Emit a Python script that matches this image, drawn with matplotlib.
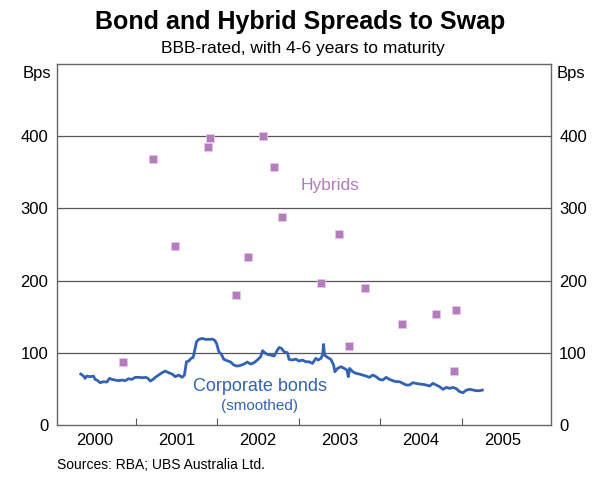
import matplotlib
matplotlib.use('Agg')
import matplotlib.pyplot as plt
import numpy as np

plt.rcParams['font.family'] = ['Liberation Sans', 'DejaVu Sans']

# Corporate bonds (smoothed), bps
bond_t = [2000.327, 2000.360, 2000.380, 2000.401, 2000.442, 2000.483, 2000.503, 2000.524,
          2000.565, 2000.606, 2000.647, 2000.680, 2000.708, 2000.749, 2000.790, 2000.831,
          2000.872, 2000.913, 2000.954, 2000.995, 2001.036, 2001.077, 2001.118, 2001.147,
          2001.180, 2001.213, 2001.241, 2001.282, 2001.323, 2001.364, 2001.405, 2001.446,
          2001.487, 2001.528, 2001.569, 2001.598, 2001.623, 2001.651, 2001.680, 2001.705,
          2001.725, 2001.746, 2001.774, 2001.815, 2001.856, 2001.897, 2001.938, 2001.967,
          2001.992, 2002.020, 2002.049, 2002.082, 2002.123, 2002.164, 2002.205, 2002.246,
          2002.287, 2002.328, 2002.369, 2002.410, 2002.451, 2002.492, 2002.533, 2002.557,
          2002.582, 2002.615, 2002.656, 2002.697, 2002.738, 2002.762, 2002.787, 2002.820,
          2002.861, 2002.881, 2002.922, 2002.963, 2003.004, 2003.045, 2003.086, 2003.127,
          2003.168, 2003.209, 2003.238, 2003.271, 2003.292, 2003.304, 2003.316, 2003.353,
          2003.394, 2003.427, 2003.443, 2003.476, 2003.517, 2003.558, 2003.591, 2003.607,
          2003.624, 2003.661, 2003.701, 2003.742, 2003.784, 2003.824, 2003.866, 2003.906,
          2003.948, 2003.989, 2004.030, 2004.071, 2004.112, 2004.152, 2004.193, 2004.235,
          2004.276, 2004.317, 2004.358, 2004.398, 2004.440, 2004.480, 2004.522, 2004.563,
          2004.604, 2004.645, 2004.686, 2004.727, 2004.768, 2004.809, 2004.850, 2004.891,
          2004.932, 2004.973, 2005.013, 2005.055, 2005.096, 2005.137, 2005.177, 2005.219,
          2005.251]
bond_v = [70.6, 67.8, 64.6, 67.8, 66.9, 67.8, 63.2, 62.3,
          58.6, 60.0, 59.5, 64.6, 63.2, 62.3, 61.4, 62.3,
          61.4, 64.1, 63.2, 66.0, 66.0, 65.5, 66.0, 65.0,
          60.9, 63.2, 66.0, 69.2, 72.4, 74.7, 72.4, 70.6,
          66.9, 69.2, 66.0, 69.2, 87.6, 88.6, 92.3, 93.6,
          103.8, 115.3, 118.6, 119.9, 118.6, 118.6, 119.0, 117.6,
          113.0, 101.5, 98.3, 90.9, 89.0, 87.2, 83.0, 81.6,
          82.6, 84.4, 87.2, 84.4, 86.3, 90.0, 94.6, 102.9,
          100.1, 97.8, 96.9, 95.5, 103.8, 107.5, 106.1, 101.5,
          100.1, 90.9, 90.0, 91.3, 88.6, 90.0, 87.6, 87.6,
          85.3, 92.3, 90.0, 92.3, 96.9, 111.6, 96.9, 93.6,
          90.9, 83.0, 73.8, 78.4, 80.7, 78.4, 76.1, 66.9,
          78.4, 73.8, 71.5, 70.6, 69.2, 67.8, 66.0, 69.2,
          66.9, 63.2, 62.3, 66.0, 63.2, 61.4, 60.0, 60.0,
          57.7, 55.4, 55.4, 58.6, 57.7, 56.7, 56.3, 55.4,
          54.0, 57.7, 55.4, 53.0, 49.4, 52.1, 50.7, 52.1,
          50.3, 46.1, 44.7, 48.4, 49.4, 48.4, 47.5, 47.5,
          48.4]

# Hybrids, bps
hyb_t = [2000.844, 2001.213, 2001.483, 2001.885, 2001.910, 2002.225, 2002.373, 2002.566,
         2002.701, 2002.791, 2003.270, 2003.496, 2003.619, 2003.810, 2004.263, 2004.677,
         2004.907, 2004.927]
hyb_v = [87.2, 368.1, 247.7, 385.7, 398.1, 180.0, 232.5, 400.9,
         357.0, 288.3, 196.5, 265.2, 109.3, 189.6, 139.3, 154.1,
         74.7, 159.6]

years = [2000, 2001, 2002, 2003, 2004, 2005]
yticks = [0, 100, 200, 300, 400]

bond_col = '#3362B5'
hyb_col = '#B57CBD'

fig = plt.figure(figsize=(6, 4.86), dpi=100)
ax = fig.add_axes([0.0945, 0.1255, 0.8235, 0.7428])

ax.plot(bond_t, bond_v, color=bond_col, lw=2.0, zorder=3)
ax.plot(hyb_t, hyb_v, ls='none', marker='s', ms=6, color=hyb_col,
        mec='#E2C8E4', mew=0.6, zorder=4)

ax.set_xlim(2000.032, 2006.09)
ax.set_ylim(0, 500)

for y in yticks[1:]:
    ax.axhline(y, color='#555555', lw=0.9, zorder=1)

ax.set_xticks(years[1:])
ax.set_xticklabels([])
ax.set_xticks([y + 0.5 for y in years], minor=True)
ax.set_xticklabels([str(y) for y in years], minor=True)
ax.tick_params(axis='x', which='major', direction='in', length=5, color='#555555')
ax.tick_params(axis='x', which='minor', length=0, labelsize=12, pad=6)

ax.set_yticks(yticks)
ax.tick_params(axis='y', length=0, labelsize=12, pad=6,
               labelleft=True, labelright=True)

for s in ax.spines.values():
    s.set_color('#666666')
    s.set_linewidth(1.0)

ax.text(-0.012, 0.975, 'Bps', transform=ax.transAxes, ha='right', va='center', fontsize=12)
ax.text(1.012, 0.975, 'Bps', transform=ax.transAxes, ha='left', va='center', fontsize=12)

ax.text(2003.38, 332, 'Hybrids', color=hyb_col, fontsize=12.5, ha='center', va='center')
ax.text(2002.52, 54, 'Corporate bonds', color=bond_col, fontsize=13, ha='center', va='center')
ax.text(2002.52, 26, '(smoothed)', color=bond_col, fontsize=11, ha='center', va='center')

fig.text(0.5, 0.955, 'Bond and Hybrid Spreads to Swap', ha='center', va='center',
         fontsize=18, fontweight='bold')
fig.text(0.505, 0.9, 'BBB-rated, with 4-6 years to maturity', ha='center', va='center',
         fontsize=12.5)
fig.text(0.095, 0.043, 'Sources: RBA; UBS Australia Ltd.', ha='left', va='center', fontsize=10)

fig.savefig('out.png', dpi=100)
